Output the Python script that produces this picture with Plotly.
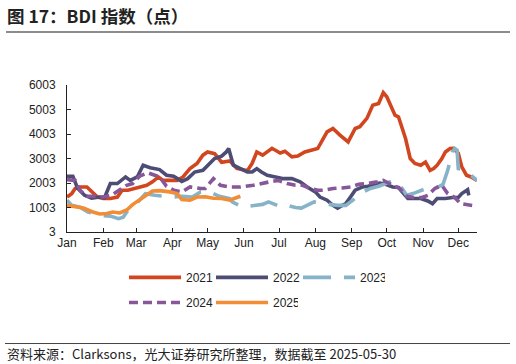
import plotly.graph_objects as go

# Day-of-year positions and BDI values (points)
d2021 = [0, 4, 7, 11, 17, 21, 26, 31, 37, 43, 47, 52, 58, 64, 68, 73, 78, 82, 88, 94, 99, 105, 111, 116, 120, 126, 132, 139, 145, 154, 158, 162, 167, 175, 182, 186, 192, 197, 203, 214, 222, 227, 233, 240, 246, 250, 256, 261, 266, 270, 273, 276, 280, 283, 289, 293, 297, 302, 306, 310, 313, 316, 320, 323, 327, 330, 334, 337, 341, 345, 350]
v2021 = [1430, 1570, 1780, 1840, 1840, 1640, 1430, 1370, 1370, 1430, 1710, 1710, 1780, 1840, 1910, 2050, 2250, 2110, 2110, 2110, 2250, 2590, 2800, 3140, 3270, 3200, 2850, 2900, 2600, 2500, 2800, 3270, 3140, 3420, 3230, 3300, 3070, 3100, 3270, 3410, 4090, 4230, 3960, 3680, 4230, 4300, 4640, 5180, 5250, 5690, 5520, 5180, 4770, 4700, 3820, 3000, 2800, 2730, 2860, 2520, 2590, 2730, 3000, 3270, 3410, 3420, 3220, 2660, 2320, 2250, 2110]

d2022 = [0, 5, 9, 15, 21, 28, 32, 37, 43, 50, 54, 60, 65, 71, 79, 85, 91, 98, 103, 109, 116, 120, 126, 132, 136, 138, 142, 148, 154, 158, 162, 166, 171, 178, 185, 192, 199, 205, 212, 216, 222, 227, 231, 235, 238, 242, 246, 252, 257, 263, 267, 272, 278, 283, 287, 291, 296, 302, 308, 312, 316, 323, 329, 334, 337, 342, 343]
v2022 = [2280, 2280, 1790, 1500, 1380, 1430, 1400, 1980, 1980, 2250, 2110, 2250, 2730, 2630, 2550, 2320, 2280, 2070, 2180, 2450, 2520, 2730, 3000, 3100, 3270, 3410, 2730, 2590, 2450, 2450, 2590, 2450, 2320, 2250, 2180, 2180, 2050, 1840, 1640, 1430, 1300, 1090, 980, 1090, 1160, 1430, 1710, 1840, 1870, 1950, 2000, 1950, 1840, 1820, 1570, 1370, 1370, 1370, 1270, 1160, 1370, 1370, 1410, 1410, 1570, 1730, 1500]

d2023 = [0, 4, 11, 18, 28, 37, 44, 48, 51, 60, 67, 75, 84, 90, 98, 107, 114, 120, 125, 130, 139, 141, 150, 159, 167, 172, 183, 188, 195, 200, 211, 218, 231, 238, 244, 250, 259, 266, 272, 279, 283, 287, 290, 297, 304, 310, 316, 321, 325, 329, 331, 333, 334, 338, 343, 347, 350]
v2023 = [1300, 1090, 1020, 820, 680, 650, 550, 610, 820, 1200, 1570, 1500, 1460, 1430, 1460, 1430, 1640, 1680, 1570, 1460, 1370, 1230, 1020, 1090, 1130, 1230, 1020, 1090, 1000, 980, 1230, 1160, 1090, 1090, 1300, 1570, 1780, 1870, 1980, 2110, 2000, 1710, 1500, 1600, 1710, 1840, 1820, 1950, 2520, 3270, 3410, 3340, 2590, 2550, 2390, 2250, 2110]

d2024 = [0, 7, 11, 17, 26, 31, 38, 45, 51, 56, 62, 69, 75, 79, 85, 91, 98, 105, 114, 118, 125, 131, 139, 148, 159, 165, 173, 180, 188, 195, 201, 208, 214, 220, 227, 235, 242, 249, 257, 265, 270, 278, 284, 290, 296, 303, 308, 314, 320, 325, 331, 336, 343, 350]
v2024 = [2140, 2110, 1710, 1460, 1460, 1430, 1500, 1710, 1910, 1980, 2280, 2420, 2320, 2250, 1870, 1710, 1640, 1840, 1780, 1780, 2180, 1910, 1840, 1840, 1910, 1980, 2050, 2110, 1980, 1910, 1910, 1780, 1710, 1710, 1780, 1800, 1840, 1950, 1980, 2050, 2110, 1910, 1780, 1460, 1410, 1410, 1500, 1780, 1910, 1570, 1410, 1160, 1090, 1050]

d2025 = [0, 7, 14, 22, 28, 34, 39, 45, 51, 56, 62, 68, 73, 79, 88, 94, 98, 105, 111, 118, 125, 132, 139, 145, 148]
v2025 = [1090, 1020, 980, 820, 740, 760, 820, 780, 900, 1120, 1330, 1550, 1680, 1690, 1640, 1570, 1330, 1300, 1430, 1440, 1380, 1370, 1300, 1410, 1460]

month_pos = [0, 31, 59, 90, 120, 151, 181, 212, 243, 273, 304, 334]
month_lbl = ["Jan", "Feb", "Mar", "Apr", "May", "Jun", "Jul", "Aug", "Sep", "Oct", "Nov", "Dec"]
y_ticks = [3, 1003, 2003, 3003, 4003, 5003, 6003]

series = [
    ("2021", d2021, v2021, "#d2461f", "solid", "legend"),
    ("2022", d2022, v2022, "#4d4c74", "solid", "legend"),
    ("2023", d2023, v2023, "#86b3c8", "28px,13px", "legend"),
    ("2024", d2024, v2024, "#87579a", "9px,5px", "legend2"),
    ("2025", d2025, v2025, "#f28c35", "solid", "legend2"),
]

fig = go.Figure()
for name, d, v, color, dash, lg in series:
    fig.add_trace(go.Scatter(x=d, y=v, mode="lines", name=name, legend=lg,
                             line=dict(color=color, width=3.6, dash=dash)))

L, T, W, H = 67, 85, 410, 146.7


def px(x):
    return (x - L) / W


def py(y):
    return (T + H - y) / H


tick_font = dict(family="Liberation Sans, Arial", size=12, color="#222")
leg_common = dict(orientation="h", xanchor="left", yanchor="middle",
                  entrywidth=20, entrywidthmode="pixels", itemwidth=52,
                  font=tick_font, bgcolor="rgba(0,0,0,0)", borderwidth=0)
fig.update_layout(
    width=516, height=364,
    margin=dict(l=67, r=39, t=85, b=364 - 85 - 146.7, autoexpand=False),
    paper_bgcolor="white", plot_bgcolor="white",
    font=tick_font,
    xaxis=dict(range=[0, 350], tickvals=month_pos, ticktext=month_lbl,
               showgrid=False, zeroline=False, showline=True, linecolor="#222",
               linewidth=1, ticks="inside", ticklen=4, tickcolor="#222"),
    yaxis=dict(range=[3, 6003], tickvals=y_ticks, showgrid=False, zeroline=False,
               showline=True, linecolor="#222", linewidth=1, ticks="inside",
               ticklen=4, tickcolor="#222", ticklabelstandoff=8),
    legend=dict(x=px(124), y=py(277), **leg_common),
    legend2=dict(x=px(124), y=py(302), **leg_common),
    shapes=[
        dict(type="line", xref="paper", yref="paper", x0=px(6), x1=px(510),
             y0=py(32), y1=py(32), line=dict(color="#666", width=1.5)),
        dict(type="line", xref="paper", yref="paper", x0=px(5), x1=px(510),
             y0=py(343), y1=py(343), line=dict(color="#444", width=1)),
    ],
    annotations=[
        dict(text="<b>图 17：BDI 指数（点）</b>", xref="paper", yref="paper",
             x=px(5), xanchor="left", y=py(16), yanchor="middle", showarrow=False,
             font=dict(family="Noto Sans CJK SC", size=17.5, color="#222")),
        dict(text="资料来源：Clarksons，光大证券研究所整理，数据截至 2025-05-30",
             xref="paper", yref="paper", x=px(5), xanchor="left",
             y=py(353), yanchor="middle", showarrow=False,
             font=dict(family="Noto Sans CJK SC", size=13, color="#222")),
    ],
)

fig.write_html("out.html", config={"displayModeBar": False},
               post_script="document.body.style.margin='0';")
